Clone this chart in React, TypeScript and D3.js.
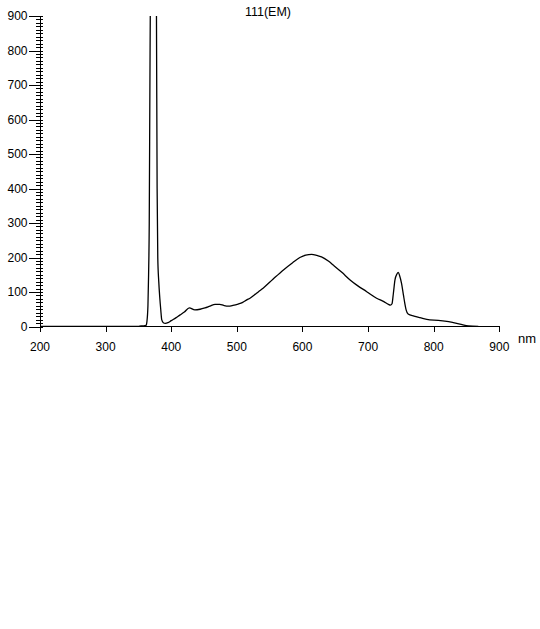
import { useEffect, useRef } from 'react';
import * as d3 from 'd3';

// emission spectrum (nm, intensity)
const wavelengths = [
  200, 350, 354, 358, 361.5, 363, 364.5, 365.5, 366.5, 367.5, 369, 372, 375.5, 377.5,
  378.5, 379.5, 381, 382.5, 384, 385.5, 388, 391, 395, 400, 407, 413, 420, 427.6,
  436, 444, 451.5, 459, 466.8, 474, 480, 487, 494, 502, 509, 515, 520, 527, 533,
  540, 555, 571, 585, 596, 605, 614, 622, 629, 640, 647, 660, 672.6, 685, 698,
  703, 713, 724, 731, 734, 736.5, 738.5, 741, 744, 746, 748, 751, 754, 756, 758,
  761, 770, 779, 794, 807, 820, 830, 840, 853, 868,
];
const intensities = [
  0, 0, 2, 2, 3, 15, 60, 150, 300, 700, 1200, 1500, 1300, 900,
  400, 200, 130, 85, 50, 20, 11, 9, 11, 17, 25, 33, 42, 54,
  48, 50, 54, 59, 64, 64, 61, 59, 61, 65, 70, 77, 82, 92, 101,
  111, 137, 164, 185, 200, 207, 209, 206, 202, 189, 178, 157, 135, 117, 101,
  94, 82, 72, 64, 62, 66, 95, 135, 152, 157, 148, 125, 90, 67, 48,
  36, 30, 25.5, 19, 18, 15, 11, 7, 1.5, 0,
];

const xTicks = [200, 300, 400, 500, 600, 700, 800, 900];
const yTicks = [0, 100, 200, 300, 400, 500, 600, 700, 800, 900];
const yMinorStep = 10;

const title = '111(EM)';
const xUnit = 'nm';

export default function App() {
  const svgRef = useRef<SVGSVGElement>(null);

  useEffect(() => {
    if (!svgRef.current) return;
    const el = svgRef.current;
    d3.select(el).selectAll('*').remove();

    const font = '"Liberation Sans", Arial, sans-serif';
    const x = d3.scaleLinear().domain([200, 900]).range([40, 499.3]);
    const y = d3.scaleLinear().domain([0, 900]).range([326.5, 16]);

    const svg = d3.select(el);

    svg.append('rect').attr('width', 540).attr('height', 629).attr('fill', '#fff');

    // title
    svg.append('text')
      .attr('x', 268).attr('y', 15.5)
      .attr('text-anchor', 'middle')
      .attr('font-size', '12.5px')
      .attr('font-family', font)
      .text(title);

    const defs = svg.append('defs');
    defs.append('clipPath').attr('id', 'plotClip')
      .append('rect')
      .attr('x', 40).attr('y', 16)
      .attr('width', 470).attr('height', 311);

    // spectrum
    const data = wavelengths.map((w, i) => ({ w, v: intensities[i] }));
    const line = d3.line<{ w: number; v: number }>()
      .x((d) => x(d.w))
      .y((d) => y(d.v))
      .curve(d3.curveMonotoneX);

    svg.append('path')
      .datum(data)
      .attr('clip-path', 'url(#plotClip)')
      .attr('fill', 'none')
      .attr('stroke', '#000')
      .attr('stroke-width', 1.3)
      .attr('d', line);

    // y axis
    const axes = svg.append('g').attr('shape-rendering', 'crispEdges').attr('stroke', '#000');
    axes.append('line')
      .attr('x1', 40.5).attr('x2', 40.5)
      .attr('y1', y(900)).attr('y2', y(0));

    const minors = d3.range(0, 900 + 1, yMinorStep).filter((v) => v % 100 !== 0);
    axes.selectAll('line.minor')
      .data(minors)
      .join('line')
      .attr('class', 'minor')
      .attr('x1', 36).attr('x2', 43)
      .attr('y1', (d) => Math.round(y(d)) + 0.5)
      .attr('y2', (d) => Math.round(y(d)) + 0.5);

    axes.selectAll('line.ymajor')
      .data(yTicks)
      .join('line')
      .attr('class', 'ymajor')
      .attr('x1', 29).attr('x2', 43)
      .attr('y1', (d) => Math.round(y(d)) + 0.5)
      .attr('y2', (d) => Math.round(y(d)) + 0.5);

    svg.selectAll('text.ylab')
      .data(yTicks)
      .join('text')
      .attr('class', 'ylab')
      .attr('x', 27.5)
      .attr('y', (d) => y(d) + 4.3)
      .attr('text-anchor', 'end')
      .attr('font-size', '12px')
      .attr('font-family', font)
      .text((d) => d);

    // x axis
    axes.append('line')
      .attr('x1', x(200)).attr('x2', x(900) + 1)
      .attr('y1', 326.5).attr('y2', 326.5);

    axes.selectAll('line.xmajor')
      .data(xTicks)
      .join('line')
      .attr('class', 'xmajor')
      .attr('x1', (d) => Math.round(x(d)) + 0.5)
      .attr('x2', (d) => Math.round(x(d)) + 0.5)
      .attr('y1', 326.5).attr('y2', 332);

    svg.selectAll('text.xlab')
      .data(xTicks)
      .join('text')
      .attr('class', 'xlab')
      .attr('x', (d) => x(d))
      .attr('y', 350.5)
      .attr('text-anchor', 'middle')
      .attr('font-size', '12px')
      .attr('font-family', font)
      .text((d) => d);

    svg.append('text')
      .attr('x', 518).attr('y', 343)
      .attr('font-size', '13px')
      .attr('font-family', font)
      .text(xUnit);
  }, []);

  return (
    <div style={{ position: 'absolute', left: 0, top: 0 }}>
      <svg ref={svgRef} width={540} height={629} style={{ display: 'block' }} />
    </div>
  );
}
